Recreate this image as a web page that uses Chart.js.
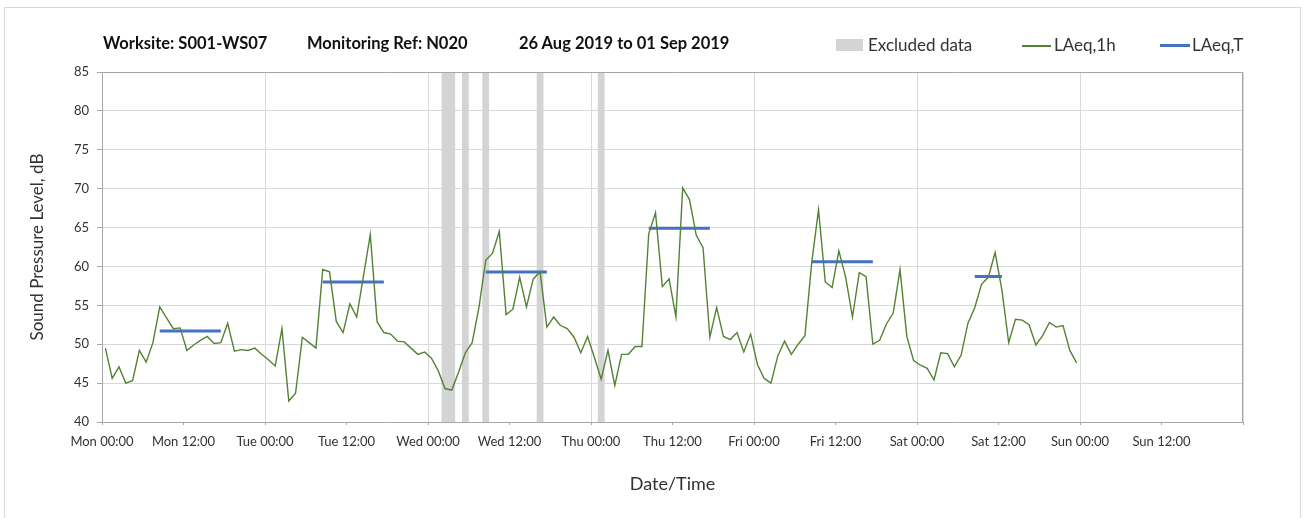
<!DOCTYPE html>
<html>
<head>
<meta charset="utf-8">
<script src="https://cdn.jsdelivr.net/npm/chart.js@4/dist/chart.umd.min.js"></script>
<style>
  html, body { margin: 0; padding: 0; background: #fff; overflow: hidden; }
  #wrap { position: relative; width: 1307px; height: 518px; }
  #frame { position: absolute; left: 4px; top: 7px; width: 1297px; height: 520px; border: 1px solid #d9d9d9; box-sizing: border-box; }
  canvas { position: absolute; left: 0; top: 0; }
  .hd { position: absolute; top: 33px; font: bold 16.5px Lato, sans-serif; color: #111; white-space: nowrap; }
  .lg { position: absolute; top: 34px; font: 17px Lato, sans-serif; color: #333; white-space: nowrap; }
  .sw { position: absolute; }
</style>
</head>
<body>
<div id="wrap">
  <div id="frame"></div>
  <canvas id="noiseChart" width="1307" height="518"></canvas>

  <span class="hd" style="left:103px">Worksite: S001-WS07</span>
  <span class="hd" style="left:307px">Monitoring Ref: N020</span>
  <span class="hd" style="left:519px">26 Aug 2019 to 01 Sep 2019</span>

  <div class="sw" style="left:836px;top:39px;width:27px;height:12px;background:#d4d4d4"></div>
  <span class="lg" style="left:868px">Excluded data</span>
  <div class="sw" style="left:1022px;top:45px;width:29px;height:1.5px;background:#548235"></div>
  <span class="lg" style="left:1054px">LAeq,1h</span>
  <div class="sw" style="left:1160px;top:44px;width:30px;height:3px;background:#4472c4"></div>
  <span class="lg" style="left:1192px">LAeq,T</span>
</div>

<script>
/* ─── DATA ────────────────────────────────────────────────── */
// hours since Mon 00:00; first hourly sample sits at 00:30
const firstHour = 0.5;

const laeq1h = [
  49.5, 45.6, 47.1, 45.0, 45.3, 49.2, 47.7, 50.2, 54.8, 53.4, 52.0, 52.1,
  49.2, 49.9, 50.5, 51.0, 50.1, 50.2, 52.7, 49.1, 49.3, 49.2, 49.5, 48.7,
  48.0, 47.2, 52.0, 42.7, 43.7, 50.9, 50.2, 49.5, 59.6, 59.3, 52.9, 51.5,
  55.2, 53.5, 58.8, 64.1, 52.9, 51.5, 51.3, 50.4, 50.3, 49.5, 48.7, 49.0,
  48.2, 46.6, 44.3, 44.1, 46.4, 48.9, 50.2, 54.7, 60.8, 61.7, 64.5, 53.8,
  54.5, 58.6, 54.8, 58.4, 59.3, 52.2, 53.5, 52.4, 52.0, 50.9, 48.9, 51.0,
  48.3, 45.5, 49.2, 44.7, 48.7, 48.7, 49.7, 49.7, 64.2, 66.9, 57.4, 58.4,
  53.5, 70.1, 68.6, 64.0, 62.4, 50.9, 54.7, 51.0, 50.6, 51.5, 49.0, 51.3,
  47.4, 45.6, 45.0, 48.5, 50.4, 48.7, 50.0, 51.1, 60.5, 67.3, 58.0, 57.3,
  62.0, 58.6, 53.5, 59.2, 58.7, 50.0, 50.5, 52.6, 54.0, 59.6, 51.0, 47.9,
  47.3, 46.9, 45.4, 48.9, 48.8, 47.1, 48.6, 52.7, 54.7, 57.7, 58.6, 61.8,
  57.0, 50.2, 53.2, 53.1, 52.5, 49.9, 51.1, 52.8, 52.2, 52.4, 49.2, 47.6,
];

// daytime LAeq,T periods
const periodStart = [8.5, 32.5, 56.5, 80.5, 104.5, 128.5];
const periodEnd   = [17.5, 41.5, 65.5, 89.5, 113.5, 132.5];
const periodLevel = [51.7, 58.0, 59.3, 64.9, 60.6, 58.7];

// excluded data windows (hours)
const excludedStart = [50, 53, 56, 64, 73];
const excludedEnd   = [52, 54, 57, 65, 74];

const tickLabels = [
  'Mon 00:00', 'Mon 12:00', 'Tue 00:00', 'Tue 12:00', 'Wed 00:00', 'Wed 12:00',
  'Thu 00:00', 'Thu 12:00', 'Fri 00:00', 'Fri 12:00', 'Sat 00:00', 'Sat 12:00',
  'Sun 00:00', 'Sun 12:00',
];

/* ─── SERIES ──────────────────────────────────────────────── */
const hourlyPts = laeq1h.map((v, i) => ({ x: firstHour + i, y: v }));

const periodPts = [];
periodStart.forEach((s, i) => {
  periodPts.push({ x: s, y: periodLevel[i] });
  periodPts.push({ x: periodEnd[i], y: periodLevel[i] });
  periodPts.push({ x: periodEnd[i], y: null });
});

/* ─── PLUGINS ─────────────────────────────────────────────── */
const excludedBands = {
  id: 'excludedBands',
  beforeDatasetsDraw(chart) {
    const { ctx, chartArea: a, scales: { x } } = chart;
    ctx.save();
    ctx.fillStyle = '#d4d4d4';
    excludedStart.forEach((s, i) => {
      const x0 = x.getPixelForValue(s);
      const x1 = x.getPixelForValue(excludedEnd[i]);
      ctx.fillRect(x0, a.top, x1 - x0, a.bottom - a.top);
    });
    ctx.restore();
  },
};

const plotFrame = {
  id: 'plotFrame',
  afterDraw(chart) {
    const { ctx, chartArea: a } = chart;
    ctx.save();
    ctx.strokeStyle = '#a6a6a6';
    ctx.lineWidth = 1;
    ctx.beginPath();
    ctx.moveTo(a.left, a.top + 0.5);
    ctx.lineTo(a.right - 0.5, a.top + 0.5);
    ctx.lineTo(a.right - 0.5, a.bottom);
    ctx.stroke();
    ctx.restore();
  },
};

/* ─── CHART ───────────────────────────────────────────────── */
const FONT = 'Lato, sans-serif';

new Chart(document.getElementById('noiseChart'), {
  type: 'line',
  data: {
    datasets: [
      {
        label: 'LAeq,1h',
        data: hourlyPts,
        borderColor: '#548235',
        borderWidth: 1.4,
        pointRadius: 0,
        tension: 0,
      },
      {
        label: 'LAeq,T',
        data: periodPts,
        borderColor: '#4472c4',
        borderWidth: 3,
        pointRadius: 0,
        spanGaps: false,
        tension: 0,
      },
    ],
  },
  options: {
    responsive: false,
    animation: false,
    devicePixelRatio: 1,
    layout: { padding: { top: 72, right: 64, bottom: 0, left: 0 } },
    plugins: {
      legend: { display: false },
      tooltip: { enabled: false },
    },
    scales: {
      x: {
        type: 'linear',
        min: 0,
        max: 168,
        afterFit: s => { s.height = 96; },
        afterBuildTicks: s => {
          s.ticks = Array.from({ length: 15 }, (_, i) => ({ value: i * 12 }));
        },
        grid: {
          color: c => (c.tick && c.tick.value % 24 === 0 ? '#d9d9d9' : 'rgba(0,0,0,0)'),
          tickColor: '#a6a6a6',
          tickLength: 3,
        },
        border: { color: '#a6a6a6', z: 1 },
        ticks: {
          autoSkip: false,
          maxRotation: 0,
          padding: 9,
          color: '#333',
          font: { family: FONT, size: 13 },
          callback: (v, i) => tickLabels[i] || '',
        },
        title: {
          display: true,
          text: 'Date/Time',
          color: '#333',
          font: { family: FONT, size: 18 },
          padding: { top: 0, bottom: 23 },
        },
      },
      y: {
        min: 40,
        max: 85,
        afterFit: s => { s.width = 102; },
        grid: { color: '#d9d9d9', tickColor: '#a6a6a6', tickLength: 5 },
        border: { color: '#a6a6a6', z: 1 },
        ticks: {
          stepSize: 5,
          padding: 8,
          color: '#333',
          font: { family: FONT, size: 13 },
        },
        title: {
          display: true,
          text: 'Sound Pressure Level, dB',
          color: '#333',
          font: { family: FONT, size: 17 },
          padding: { top: 27, bottom: 0 },
        },
      },
    },
  },
  plugins: [excludedBands, plotFrame],
});
</script>
</body>
</html>
